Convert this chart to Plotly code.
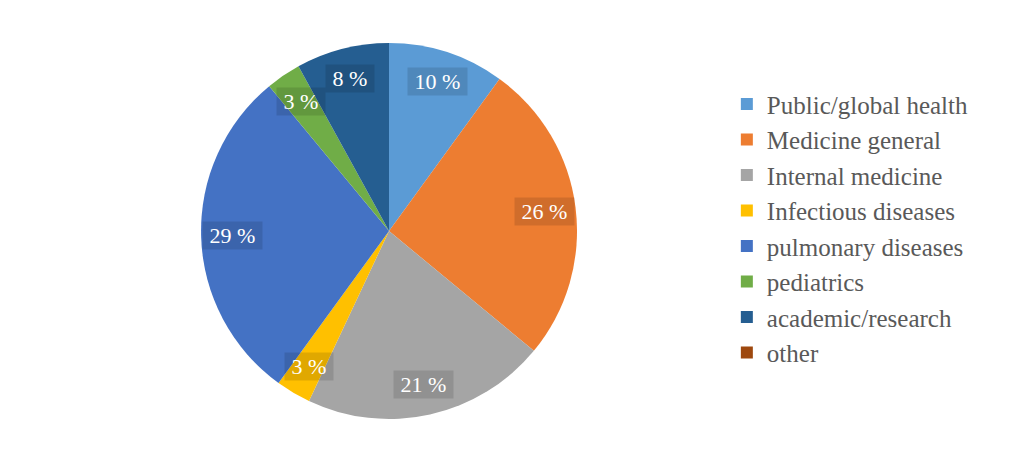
import math

import plotly.graph_objects as go

labels = [
    "Public/global health",
    "Medicine general",
    "Internal medicine",
    "Infectious diseases",
    "pulmonary diseases",
    "pediatrics",
    "academic/research",
    "other",
]
shares = [10, 26, 21, 3, 29, 3, 8, 0]
colors = ["#5B9BD5", "#ED7D31", "#A5A5A5", "#FFC000", "#4472C4", "#70AD47", "#255E91", "#9E480E"]

SERIF = "Liberation Serif"
W, H = 1024, 459
dom_x = [0.1885, 0.5557]
dom_y = [0.1046, 0.9237]

fig = go.Figure()
fig.add_pie(
    labels=labels,
    values=shares,
    sort=False,
    direction="clockwise",
    rotation=0,
    marker=dict(colors=colors, line=dict(color="white", width=0)),
    textinfo="none",
    hoverinfo="label+percent",
    domain=dict(x=dom_x, y=dom_y),
)

# percentage labels with a shaded box, placed at each slice's mid angle
cx = (dom_x[0] + dom_x[1]) / 2 * W
cy = (dom_y[0] + dom_y[1]) / 2 * H
R = min((dom_x[1] - dom_x[0]) * W, (dom_y[1] - dom_y[0]) * H) / 2
total = sum(shares)
cum = 0
for v in shares:
    if v == 0:
        continue
    mid = (cum + v / 2) / total * 2 * math.pi
    cum += v
    r = 0.835 * R
    fig.add_annotation(
        x=(cx + r * math.sin(mid)) / W,
        y=(cy + r * math.cos(mid)) / H,
        xref="paper",
        yref="paper",
        xanchor="center",
        yanchor="middle",
        text=f"\u00a0{round(v / total * 100)} %\u00a0",
        showarrow=False,
        font=dict(family=SERIF, size=22, color="white"),
        bgcolor="rgba(0,0,0,0.12)",
        borderpad=1,
    )

fig.update_layout(
    width=W,
    height=H,
    margin=dict(l=0, r=0, t=0, b=0),
    paper_bgcolor="white",
    showlegend=True,
    legend=dict(
        x=0.702,
        y=0.52,
        yanchor="middle",
        xanchor="left",
        font=dict(family=SERIF, size=25, color="#595959"),
        itemwidth=30,
    ),
)

fig.write_html("out.html")
